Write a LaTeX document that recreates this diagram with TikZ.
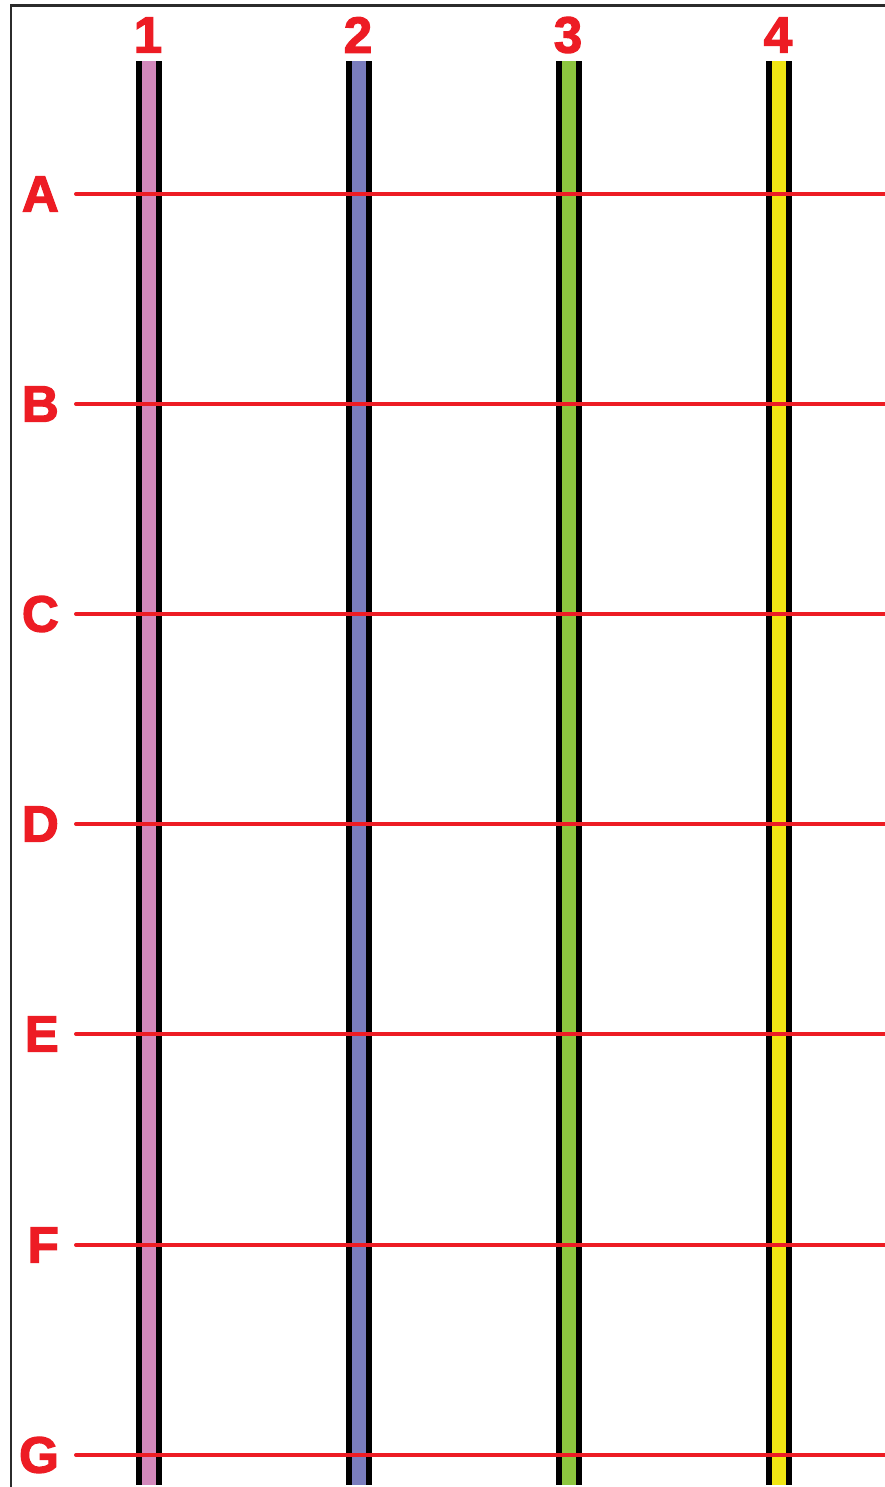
\documentclass[tikz,border=0pt]{standalone}
\usepackage{fontspec}
\setmainfont{Liberation Sans}
\newfontfamily\heavyfont[FakeBold=2.5]{Liberation Sans Bold}
\definecolor{lblred}{HTML}{ED1C24}
\definecolor{framegray}{HTML}{2B2B2B}
\definecolor{colpink}{HTML}{D388BB}
\definecolor{colblue}{HTML}{7A7DBD}
\definecolor{colgreen}{HTML}{8DC63F}
\definecolor{colyellow}{HTML}{F0E614}
\begin{document}
\begin{tikzpicture}[x=1pt,y=-1pt,
  lbl/.style={text=lblred, font=\heavyfont\fontsize{51}{51}\selectfont, inner sep=0pt},
  rowline/.style={draw=lblred, line width=4pt, line cap=round},
  framestyle/.style={draw=framegray, line width=2.2pt}]
\useasboundingbox (0,0) rectangle (885,1487);
\fill[white] (0,0) rectangle (885,1487);
\draw[framestyle] (11,1487) -- (11,5.5) -- (885,5.5);
% columns
\foreach \x/\c/\n in {149/colpink/1, 359/colblue/2, 569/colgreen/3, 779/colyellow/4}{
  \fill[black] (\x-13,61) rectangle (\x+13,1485);
  \fill[\c] (\x-7,61) rectangle (\x+7,1485);
  \node[lbl] (col\n) at (\x-1,35) {\n};
}
% rows
\foreach \y/\l in {194/A, 404/B, 614/C, 824/D, 1034/E, 1245/F, 1455/G}{
  \node[lbl, anchor=east] (row\l) at (59,\y) {\l};
  \coordinate (s\l) at (76,\y);
  \coordinate (e\l) at (887,\y);
  \draw[rowline] (s\l) -- (e\l);
}
\end{tikzpicture}
\end{document}
